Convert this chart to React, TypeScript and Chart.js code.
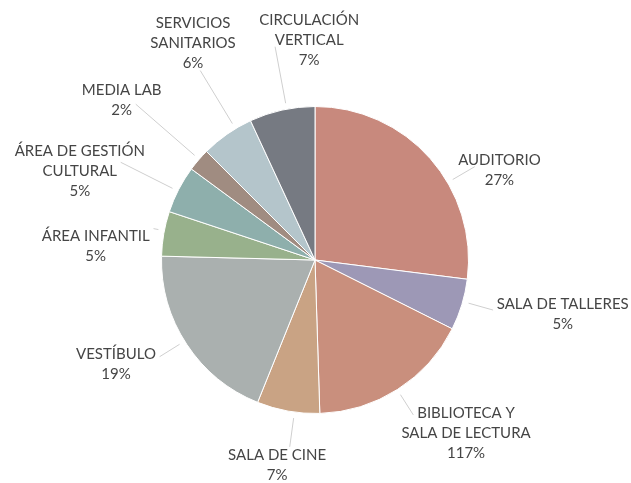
import React, { useEffect, useRef } from "react";
import { Chart, registerables } from "chart.js";
Chart.register(...registerables);

// ---- data ----
const categories: string[][] = [
  ["AUDITORIO"],
  ["SALA DE TALLERES"],
  ["BIBLIOTECA Y", "SALA DE LECTURA"],
  ["SALA DE CINE"],
  ["VESTÍBULO"],
  ["ÁREA INFANTIL"],
  ["ÁREA DE GESTIÓN", "CULTURAL"],
  ["MEDIA LAB"],
  ["SERVICIOS", "SANITARIOS"],
  ["CIRCULACIÓN", "VERTICAL"],
];
const values = [27.0, 5.4, 17.1, 6.6, 19.3, 4.7, 5.0, 2.4, 5.6, 6.9];
const percentLabels = ["27%", "5%", "117%", "7%", "19%", "5%", "5%", "2%", "6%", "7%"];

// ---- styles / layout ----
const colors = [
  "#C8897D",
  "#9D98B6",
  "#C98F7D",
  "#C9A384",
  "#AAB0AF",
  "#98B18C",
  "#8EAFAC",
  "#A08C81",
  "#B4C5CB",
  "#767A82",
];
// label centre: angle (deg, clockwise from top) and distance in radius units
const labelAngles = [63.7, 102.0, 138.7, 190.5, 242.6, 274.0, 290.9, 309.7, 330.7, 358.5];
const labelDistances = [1.34, 1.65, 1.491, 1.354, 1.46, 1.432, 1.64, 1.637, 1.624, 1.442];
// angle where the leader line leaves the pie
const leaderAngles = [59.7, 105.7, 147.6, 187.7, 238.1, 281, 296.7, 311, 328.8, 349.4];

const FONT = "15px Lato";
const TEXT_COLOR = "#454545";
const LINE_H = 20;

const labelPlugin = {
  id: "outsideLabels",
  afterDatasetsDraw(chart: any) {
    const ctx = chart.ctx as CanvasRenderingContext2D;
    const meta = chart.getDatasetMeta(0);
    ctx.save();
    ctx.font = FONT;
    ctx.textAlign = "center";
    ctx.textBaseline = "middle";
    meta.data.forEach((arc: any, i: number) => {
      const p = arc.getProps(["x", "y", "outerRadius"], true);
      const R = p.outerRadius;
      const la = ((labelAngles[i] - 90) * Math.PI) / 180;
      const cx = p.x + Math.cos(la) * R * labelDistances[i];
      const cy = p.y + Math.sin(la) * R * labelDistances[i];
      const lines = [...categories[i], percentLabels[i]];
      const top = cy - (lines.length * LINE_H) / 2;
      const rects = lines.map((t, k) => {
        const w = ctx.measureText(t).width;
        return {
          x0: cx - w / 2 - 4,
          x1: cx + w / 2 + 4,
          y0: top + k * LINE_H + 2,
          y1: top + (k + 1) * LINE_H - 2,
        };
      });
      const inside = (x: number, y: number) =>
        rects.some((r) => x >= r.x0 && x <= r.x1 && y >= r.y0 && y <= r.y1);
      const ea = ((leaderAngles[i] - 90) * Math.PI) / 180;
      const sx = p.x + Math.cos(ea) * (R + 6);
      const sy = p.y + Math.sin(ea) * (R + 6);
      let ex: number | null = null;
      let ey: number | null = null;
      for (let s = 0; s < 120; s += 0.5) {
        const x = sx + Math.cos(ea) * s;
        const y = sy + Math.sin(ea) * s;
        if (inside(x, y)) {
          ex = x;
          ey = y;
          break;
        }
      }
      if (ex === null) {
        for (let t = 0; t <= 1; t += 0.005) {
          const x = sx + (cx - sx) * t;
          const y = sy + (cy - sy) * t;
          if (inside(x, y)) {
            ex = x;
            ey = y;
            break;
          }
        }
      }
      if (ex !== null && ey !== null && Math.hypot(ex - sx, ey - sy) > 2) {
        ctx.strokeStyle = "#CFCFCF";
        ctx.lineWidth = 1;
        ctx.beginPath();
        ctx.moveTo(sx, sy);
        ctx.lineTo(ex, ey);
        ctx.stroke();
      }
      ctx.fillStyle = TEXT_COLOR;
      lines.forEach((t, k) => {
        ctx.fillText(t, cx, top + k * LINE_H + LINE_H / 2 + 1);
      });
    });
    ctx.restore();
  },
};

export default function App() {
  const ref = useRef<HTMLCanvasElement | null>(null);
  useEffect(() => {
    if (!ref.current) return;
    const chart = new Chart(ref.current, {
      type: "pie",
      data: {
        labels: categories.map((c) => c.join(" ")),
        datasets: [
          {
            data: values,
            backgroundColor: colors,
            borderColor: "#FFFFFF",
            borderWidth: 1,
          },
        ],
      },
      options: {
        responsive: false,
        animation: false,
        layout: { padding: { top: 106, bottom: 69, left: 0, right: 1 } },
        plugins: {
          legend: { display: false },
          tooltip: { enabled: false },
        },
      },
      plugins: [labelPlugin],
    });
    return () => chart.destroy();
  }, []);
  return (
    <div style={{ position: "fixed", left: 0, top: 0, width: 631, height: 483, background: "#fff" }}>
      <canvas ref={ref} width={631} height={483} style={{ width: 631, height: 483 }} />
    </div>
  );
}
